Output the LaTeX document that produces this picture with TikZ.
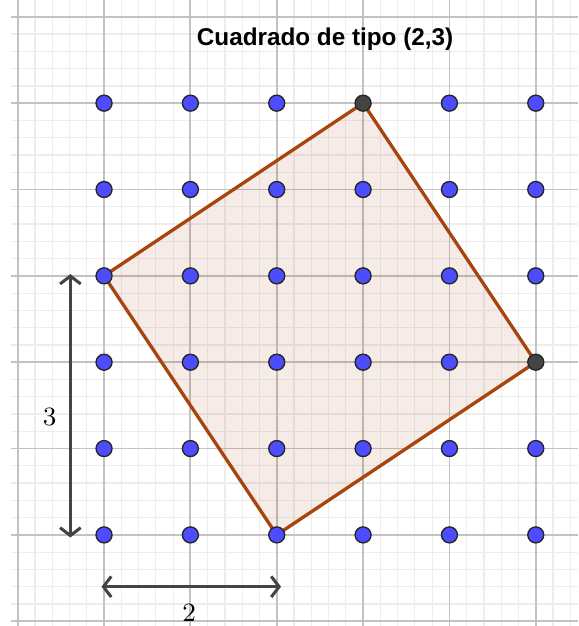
\documentclass[tikz,border=0pt]{standalone}
\usepackage{fontspec}
\newfontfamily\titlefont{Liberation Sans}
\usetikzlibrary{arrows.meta,positioning}
\definecolor{ggbblue}{HTML}{4D4DFF}
\definecolor{ggbbrown}{HTML}{A8440F}
\definecolor{ggbdark}{HTML}{444444}
\definecolor{ggbminor}{HTML}{EDEDED}
\definecolor{ggbmajor}{HTML}{C2C2C2}

\begin{document}
\begin{tikzpicture}[>={Straight Barb[length=2.6pt,width=6.8pt,line width=1pt]},
  gridpt/.style={circle,draw=black!85,line width=.45pt,inner sep=0pt,minimum size=1.85mm},
  measure/.style={<->,ggbdark,line width=1pt}]
\useasboundingbox (-1.205,-1.055) rectangle (5.49,6.195);
\draw[step=.2,ggbminor,line width=.4pt] (-1.08,-1.055) grid (5.49,6.195);
\draw[step=1,ggbmajor,line width=.6pt] (-1.08,-1.055) grid (5.49,6.195);
\node[font=\titlefont\bfseries\fontsize{8}{10}\selectfont] (title) at (2.56,5.74){Cuadrado de tipo (2,3)};
% square with vertices on the lattice
\coordinate (A) at (0,3); \coordinate (B) at (3,5); \coordinate (C) at (5,2); \coordinate (D) at (2,0);
\draw[ggbbrown,line width=1.1pt,line join=round,fill=ggbbrown,fill opacity=.1] (A)--(B)--(C)--(D)--cycle;
\foreach \i in {0,...,5}\foreach \j in {0,...,5}{\def\c{ggbblue}\ifnum\i\j=35 \def\c{ggbdark}\fi\ifnum\i\j=52 \def\c{ggbdark}\fi
  \node[gridpt,fill=\c] (p\i\j) at (\i,\j){};}
% side components
\coordinate (v1) at (-.39,3.02); \coordinate (v0) at (-.39,-.03);
\coordinate (h0) at (-.03,-.6); \coordinate (h1) at (2.05,-.6);
\draw[measure] (v1)--(v0);
\draw[measure] (h0)--(h1);
\node[font=\fontsize{8.7}{10}\selectfont] (lblv) at (-.63,1.37){3};
\node[font=\fontsize{8.7}{10}\selectfont] (lblh) at (.985,-.9){2};
\end{tikzpicture}
\end{document}
